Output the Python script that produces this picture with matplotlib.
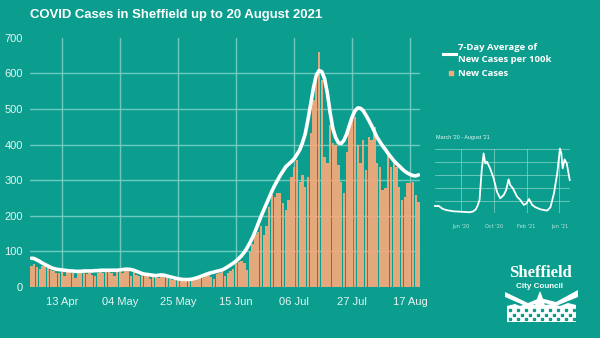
import matplotlib
matplotlib.use("Agg")
import matplotlib.pyplot as plt
import pandas as pd
from matplotlib.patches import Polygon, Rectangle

# ---------------- data ----------------
dates = pd.date_range("2021-04-02", "2021-08-20", freq="D")

new_cases = [
    60, 65, 55, 50, 58, 62, 52,      # Apr 2-8
    48, 45, 40, 38, 42, 30, 44,      # Apr 9-15
    40, 38, 25, 42, 40, 38, 36,      # Apr 16-22
    40, 35, 30, 38, 42, 40, 44,      # Apr 23-29
    42, 38, 30, 45, 42, 40, 46,      # Apr 30-May 6
    44, 30, 42, 35, 30, 38, 34,      # May 7-13
    30, 22, 28, 32, 25, 30, 28,      # May 14-20
    26, 22, 20, 24, 22, 18, 22,      # May 21-27
    20, 18, 24, 26, 22,              # May 28-Jun 1
    30, 24, 35, 38, 28, 22, 36, 40, 44, 32, 40, 46, 50,          # Jun 2-14
    66, 70, 72, 68, 48, 99, 122, 150, 155, 170, 146, 170, 225,   # Jun 15-27
    258, 254, 263, 263, 235, 216, 244, 310, 338, 357, 296, 315, 282, 310,  # Jun 28-Jul 11
    432, 525, 586, 661, 582, 366, 347, 455, 404, 399, 343, 296, 263,       # Jul 12-24
    380, 455, 469, 478, 399, 347, 413, 329, 422, 413, 450, 347, 338,       # Jul 25-Aug 6
    272, 277, 371, 338, 347, 338, 282, 244, 254, 291, 291, 296, 258, 240,  # Aug 7-20
]

avg_rate = [
    81, 80, 76, 72, 67, 63, 59,
    55, 52, 50, 49, 48, 47, 46,
    45, 45, 44, 44, 44, 45, 45,
    45, 45, 46, 46, 47, 47, 47,
    47, 47, 47, 47, 48, 49, 50,
    50, 49, 47, 44, 41, 38, 36,
    35, 34, 33, 32, 33, 34, 33,
    31, 29, 27, 25, 23, 22, 21,
    21, 21, 22, 24, 26, 29, 32,
    35, 38, 40, 42, 44, 46, 48,
    52, 57, 62, 67, 73, 80, 88,
    98, 110, 124, 140, 158, 178, 198,
    216, 234, 252, 270, 286, 300, 314,
    326, 338, 345, 352, 360, 372, 385,
    405, 430, 470, 515, 560, 595, 608,
    605, 585, 545, 490, 445, 420, 405,
    403, 412, 430, 455, 478, 495, 503,
    502, 495, 482, 468, 453, 437, 420,
    408, 396, 386, 375, 365, 355, 347,
    340, 332, 325, 320, 316, 313, 312,
    315,
]

x_tick_dates = pd.to_datetime(["2021-04-13", "2021-05-04", "2021-05-25", "2021-06-15",
                               "2021-07-06", "2021-07-27", "2021-08-17"])
x_tick_labels = ["13 Apr", "04 May", "25 May", "15 Jun", "06 Jul", "27 Jul", "17 Aug"]
y_ticks = [0, 100, 200, 300, 400, 500, 600, 700]

inset_dates = pd.to_datetime([
    "2020-04-11", "2020-04-25", "2020-05-09", "2020-05-23", "2020-06-06", "2020-06-20",
    "2020-07-04", "2020-07-18", "2020-08-01", "2020-08-15", "2020-08-29", "2020-09-08",
    "2020-09-15", "2020-09-22", "2020-09-30", "2020-10-07", "2020-10-13", "2020-10-19",
    "2020-10-25", "2020-10-31", "2020-11-13", "2020-11-25", "2020-12-07", "2020-12-20",
    "2020-12-29", "2021-01-07", "2021-01-13", "2021-01-23", "2021-02-07", "2021-02-19",
    "2021-03-04", "2021-03-14", "2021-03-23", "2021-04-04", "2021-04-16", "2021-05-04",
    "2021-05-29", "2021-06-10", "2021-06-23", "2021-07-05", "2021-07-15", "2021-07-20",
    "2021-07-25", "2021-08-01", "2021-08-09", "2021-08-20",
])
inset_values = [
    57, 57, 35, 25, 20, 15,
    14, 12, 10, 8, 14, 30,
    60, 104, 338, 468, 390, 403,
    377, 350, 273, 169, 117, 143,
    182, 265, 221, 195, 130, 104,
    65, 78, 112, 65, 47, 31,
    21, 47, 156, 312, 506, 468,
    351, 421, 390, 260,
]
inset_tick_dates = pd.to_datetime(["2020-07-14", "2020-11-13", "2021-03-14", "2021-07-13"])
inset_tick_labels = ["Jun '20", "Oct '20", "Feb '21", "Jun '21"]
inset_y_ticks = [0, 100, 200, 300, 400, 500]

# ---------------- style ----------------
BG = "#0b9e8e"
BAR = "#f5aa7b"
TXT = "#e6f5f2"
W, H = 600, 338

fig = plt.figure(figsize=(6, 3.38), dpi=100, facecolor=BG)


def fx(px):
    return px / W


def fy(py):
    return 1 - py / H


# main axes
ax = fig.add_axes([fx(30), fy(287), fx(390), (287 - 37.8) / H])
ax.set_facecolor(BG)
ax.bar(dates, new_cases, width=0.85, color=BAR, alpha=0.93, zorder=2, linewidth=0)
ax.plot(dates, avg_rate, color="white", lw=2.6, zorder=3, solid_capstyle="round")
ax.set_xlim(dates[0] - pd.Timedelta(hours=12), dates[-1] + pd.Timedelta(hours=12))
ax.set_ylim(0, 700)
ax.set_yticks(y_ticks)
ax.set_xticks(x_tick_dates)
ax.set_xticklabels(x_tick_labels)
ax.set_axisbelow(True)
ax.grid(True, color="#7fd0c6", lw=1.0, alpha=0.85, zorder=0)
for gl, v in zip(ax.yaxis.get_gridlines(), y_ticks):
    if v in (0, 700):
        gl.set_visible(False)
for s in ax.spines.values():
    s.set_visible(False)
ax.tick_params(length=0, colors=TXT, labelsize=8, pad=6)
for lab in ax.get_xticklabels() + ax.get_yticklabels():
    lab.set_fontfamily("Liberation Sans")
    lab.set_color(TXT)
ax.tick_params(axis="y", pad=5)
ax.tick_params(axis="x", pad=7)

# title
fig.text(fx(30), fy(15), "COVID Cases in Sheffield up to 20 August 2021", color="white",
         fontsize=9.45, fontweight="bold", family="Liberation Sans", va="center", ha="left")

# legend
fig.add_artist(plt.Line2D([fx(443), fx(456)], [fy(54), fy(54)], color="white", lw=2.2))
for txt, yy in [("7-Day Average of", 47), ("New Cases per 100k", 60), ("New Cases", 73)]:
    fig.text(fx(458), fy(yy), txt, color="white", fontsize=6.8,
             fontweight="bold", family="Open Sans", va="center")
fig.add_artist(Rectangle((fx(449), fy(75)), fx(4), 4 / H, transform=fig.transFigure,
                         color=BAR))

# inset
iax = fig.add_axes([fx(435), fy(213.3), fx(135), 64 / H])
iax.set_facecolor("none")
iax.plot(inset_dates, inset_values, color="white", lw=1.3, clip_on=False, zorder=3)
iax.set_xlim(pd.Timestamp("2020-04-11"), pd.Timestamp("2021-08-21"))
iax.set_ylim(0, 500)
iax.set_yticks(inset_y_ticks)
iax.set_yticklabels([])
iax.set_xticks(inset_tick_dates)
iax.set_xticklabels(inset_tick_labels)
iax.grid(True, color="#8fd6cc", lw=0.6, alpha=0.8)
for s in iax.spines.values():
    s.set_visible(False)
iax.tick_params(length=0, labelsize=3.6, colors="#bfe6e0", pad=8)
fig.text(fx(436), fy(138), "March '20 - August '21", color="#e6f5f2", fontsize=3.9,
         family="Liberation Sans", va="center")

# logo
fig.text(fx(540), fy(273), "Sheffield", color="white", fontsize=12, family="Liberation Serif",
         fontweight="bold", ha="center", va="center")
fig.text(fx(540), fy(286), "City Council", color="white", fontsize=5.8, family="Liberation Sans",
         fontweight="bold", ha="center", va="center")


def poly(pts, color):
    fig.add_artist(Polygon([(fx(x), fy(y)) for x, y in pts], closed=True,
                           transform=fig.transFigure, facecolor=color, edgecolor="none"))


# hills
poly([(505, 292), (528, 303), (540, 298), (556, 302), (578, 290), (578, 297), (556, 306),
      (540, 302), (528, 307), (505, 297)], "white")
# building band
poly([(507, 306), (515, 304), (520, 306), (528, 303), (535, 305), (538, 296), (540, 291),
      (542, 296), (545, 305), (552, 304), (560, 306), (568, 303), (576, 305),
      (576, 322), (507, 322)], "white")
# windows
for i, x0 in enumerate(range(509, 575, 4)):
    for j, y0 in enumerate([309, 314, 318]):
        if (i + j) % 2 == 0:
            fig.add_artist(Rectangle((fx(x0), fy(y0 + 2)), fx(2), 2 / H,
                                     transform=fig.transFigure, color=BG))

fig.savefig("out.png", dpi=100, facecolor=BG)
